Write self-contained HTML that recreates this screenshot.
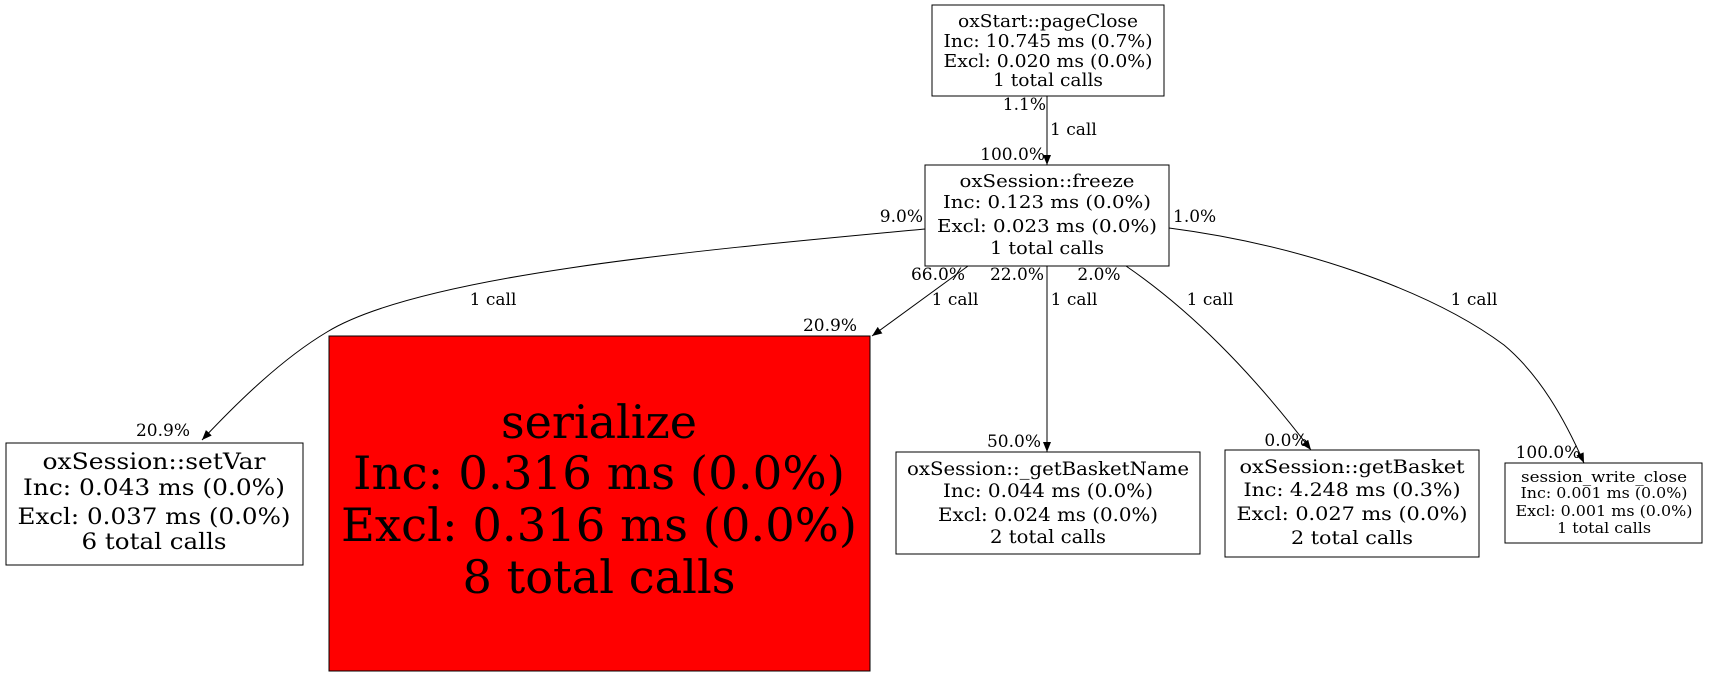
<!DOCTYPE html>
<html><head><meta charset="utf-8"><style>html,body{margin:0;padding:0;background:#fff}svg{display:block}</style></head><body>
<svg width="1709" height="677" viewBox="0 0 1709 677" xmlns="http://www.w3.org/2000/svg" font-family="DejaVu Serif, serif">
<defs><marker id="a" markerWidth="10" markerHeight="8" refX="10" refY="4" orient="auto" markerUnits="userSpaceOnUse"><path d="M0,0 L10,4 L0,8 z" fill="#000"/></marker></defs>
<g fill="none" stroke="#000" stroke-width="1">
<path d="M1047,96 L1047,165" marker-end="url(#a)"/>
<path d="M925,229 C700,250 420,275 327,332 C280,360 235,405 202,440" marker-end="url(#a)"/>
<path d="M968,266 L872,336" marker-end="url(#a)"/>
<path d="M1047,266 L1047,452" marker-end="url(#a)"/>
<path d="M1126,266 C1190,310 1250,370 1311,450" marker-end="url(#a)"/>
<path d="M1169,228 C1300,245 1430,290 1504,345 C1540,375 1565,420 1584,463" marker-end="url(#a)"/>
</g>
<g stroke="#000" stroke-width="1">
<rect x="932" y="5" width="232" height="91" fill="#fff"/>
<rect x="925" y="165" width="244" height="101" fill="#fff"/>
<rect x="6" y="443" width="297" height="122" fill="#fff"/>
<rect x="329" y="336" width="541" height="335" fill="#ff0000"/>
<rect x="896" y="452" width="304" height="102" fill="#fff"/>
<rect x="1225" y="450" width="254" height="107" fill="#fff"/>
<rect x="1505" y="463" width="197" height="80" fill="#fff"/>
</g>
<g text-anchor="middle" fill="#000" lengthAdjust="spacingAndGlyphs">
<g font-size="18">
<text x="1048" y="27" textLength="180" lengthAdjust="spacingAndGlyphs">oxStart::pageClose</text>
<text x="1048" y="47" textLength="209" lengthAdjust="spacingAndGlyphs">Inc: 10.745 ms (0.7%)</text>
<text x="1048" y="67" textLength="209" lengthAdjust="spacingAndGlyphs">Excl: 0.020 ms (0.0%)</text>
<text x="1048" y="86" textLength="110" lengthAdjust="spacingAndGlyphs">1 total calls</text>
<text x="1047" y="187" textLength="175" lengthAdjust="spacingAndGlyphs">oxSession::freeze</text>
<text x="1047" y="208" textLength="208" lengthAdjust="spacingAndGlyphs">Inc: 0.123 ms (0.0%)</text>
<text x="1047" y="232" textLength="220" lengthAdjust="spacingAndGlyphs">Excl: 0.023 ms (0.0%)</text>
<text x="1047" y="254" textLength="114" lengthAdjust="spacingAndGlyphs">1 total calls</text>
</g>
<g font-size="22">
<text x="154" y="469" textLength="223" lengthAdjust="spacingAndGlyphs">oxSession::setVar</text>
<text x="154" y="495" textLength="262" lengthAdjust="spacingAndGlyphs">Inc: 0.043 ms (0.0%)</text>
<text x="154" y="524" textLength="273" lengthAdjust="spacingAndGlyphs">Excl: 0.037 ms (0.0%)</text>
<text x="154" y="549" textLength="145" lengthAdjust="spacingAndGlyphs">6 total calls</text>
</g>
<g font-size="46">
<text x="599" y="438" textLength="196" lengthAdjust="spacingAndGlyphs">serialize</text>
<text x="599" y="489" textLength="492" lengthAdjust="spacingAndGlyphs">Inc: 0.316 ms (0.0%)</text>
<text x="599" y="541" textLength="516" lengthAdjust="spacingAndGlyphs">Excl: 0.316 ms (0.0%)</text>
<text x="599" y="593" textLength="273" lengthAdjust="spacingAndGlyphs">8 total calls</text>
</g>
<g font-size="19">
<text x="1048" y="475" textLength="282" lengthAdjust="spacingAndGlyphs">oxSession::_getBasketName</text>
<text x="1048" y="497" textLength="210" lengthAdjust="spacingAndGlyphs">Inc: 0.044 ms (0.0%)</text>
<text x="1048" y="521" textLength="220" lengthAdjust="spacingAndGlyphs">Excl: 0.024 ms (0.0%)</text>
<text x="1048" y="543" textLength="116" lengthAdjust="spacingAndGlyphs">2 total calls</text>
<text x="1352" y="473" textLength="225" lengthAdjust="spacingAndGlyphs">oxSession::getBasket</text>
<text x="1352" y="496" textLength="217" lengthAdjust="spacingAndGlyphs">Inc: 4.248 ms (0.3%)</text>
<text x="1352" y="520" textLength="231" lengthAdjust="spacingAndGlyphs">Excl: 0.027 ms (0.0%)</text>
<text x="1352" y="544" textLength="122" lengthAdjust="spacingAndGlyphs">2 total calls</text>
</g>
<g font-size="15">
<text x="1604" y="482" textLength="166" lengthAdjust="spacingAndGlyphs">session_write_close</text>
<text x="1604" y="498" textLength="167" lengthAdjust="spacingAndGlyphs">Inc: 0.001 ms (0.0%)</text>
<text x="1604" y="516" textLength="177" lengthAdjust="spacingAndGlyphs">Excl: 0.001 ms (0.0%)</text>
<text x="1604" y="533" textLength="94" lengthAdjust="spacingAndGlyphs">1 total calls</text>
</g>
</g>
<g font-size="17" fill="#000">
<text x="1046" y="110" text-anchor="end">1.1%</text>
<text x="1050" y="135">1 call</text>
<text x="1045" y="160" text-anchor="end">100.0%</text>
<text x="923" y="222" text-anchor="end">9.0%</text>
<text x="1173" y="222">1.0%</text>
<text x="938" y="280" text-anchor="middle">66.0%</text>
<text x="1017" y="280" text-anchor="middle">22.0%</text>
<text x="1099" y="280" text-anchor="middle">2.0%</text>
<text x="493" y="305" text-anchor="middle">1 call</text>
<text x="955" y="305" text-anchor="middle">1 call</text>
<text x="1074" y="305" text-anchor="middle">1 call</text>
<text x="1210" y="305" text-anchor="middle">1 call</text>
<text x="1474" y="305" text-anchor="middle">1 call</text>
<text x="163" y="436" text-anchor="middle">20.9%</text>
<text x="830" y="331" text-anchor="middle">20.9%</text>
<text x="1014" y="447" text-anchor="middle">50.0%</text>
<text x="1286" y="446" text-anchor="middle">0.0%</text>
<text x="1548" y="458" text-anchor="middle">100.0%</text>
</g>
</svg>
</body></html>
